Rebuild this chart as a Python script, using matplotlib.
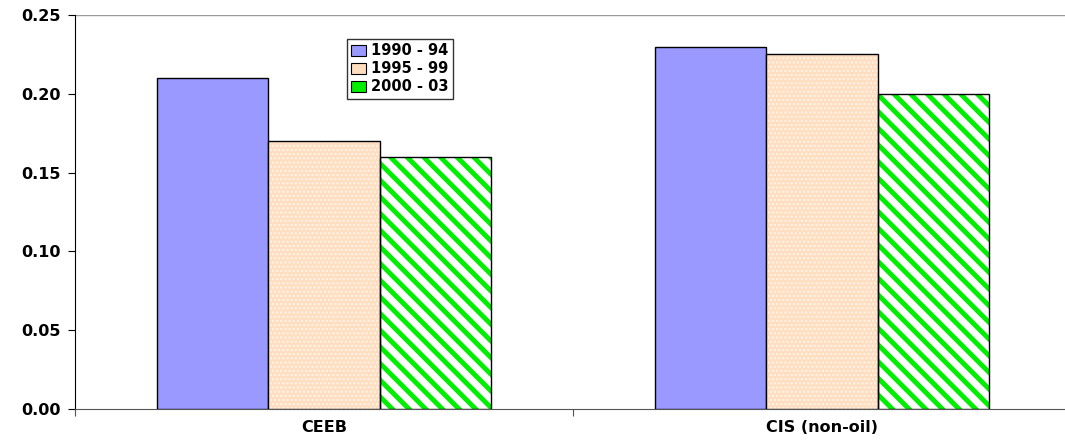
import matplotlib
matplotlib.use("Agg")
import matplotlib.pyplot as plt
import numpy as np

categories = ["CEEB", "CIS (non-oil)"]
series_names = ["1990 - 94", "1995 - 99", "2000 - 03"]
v_1990_94 = [0.21, 0.23]
v_1995_99 = [0.17, 0.225]
v_2000_03 = [0.16, 0.20]
yticks = [0.00, 0.05, 0.10, 0.15, 0.20, 0.25]

plt.rcParams['font.family'] = ['DejaVu Sans']
plt.rcParams['font.weight'] = 'bold'

FS = 11.5

W, H = 1065, 440
fig = plt.figure(figsize=(W / 100, H / 100), dpi=100)
ax = fig.add_axes([75 / W, (H - 409) / H, 996 / W, 394 / H])

x = np.arange(len(categories))
bw = 0.223
offs = [-bw, 0, bw]

ax.bar(x + offs[0], v_1990_94, bw, color='#9999FF', edgecolor='black', linewidth=1, zorder=3)
with plt.rc_context({'hatch.linewidth': 1.2}):
    ax.bar(x + offs[1], v_1995_99, bw, color='#FFDDBF', edgecolor='#FFF3E8', linewidth=0, hatch='....', zorder=3)
ax.bar(x + offs[1], v_1995_99, bw, color='none', edgecolor='black', linewidth=1, zorder=4)
with plt.rc_context({'hatch.linewidth': 3.5}):
    ax.bar(x + offs[2], v_2000_03, bw, color='white', edgecolor='#00EE00', linewidth=0, hatch='\\\\', zorder=3)
ax.bar(x + offs[2], v_2000_03, bw, color='none', edgecolor='black', linewidth=1, zorder=4)

ax.set_xlim(-0.5, 1.5)
ax.set_ylim(0, 0.25)
ax.set_yticks(yticks)
ax.set_yticklabels([f"{v:.2f}" for v in yticks], fontsize=FS, fontweight='bold')
ax.set_xticks([-0.5, 0.5, 1.5])
ax.set_xticklabels([])
ax.set_xticks(x, minor=True)
ax.set_xticklabels(categories, minor=True, fontsize=FS, fontweight='bold')
ax.tick_params(axis='x', which='minor', length=0, pad=8)
ax.tick_params(axis='x', which='major', length=5, direction='out', color='#555555')
ax.tick_params(axis='y', length=5, direction='out', pad=5)

ax.axhline(0.25, color='#999999', linewidth=1, zorder=1)
for s in ['top', 'right']:
    ax.spines[s].set_visible(False)
ax.spines['left'].set_color('black')
ax.spines['bottom'].set_color('#555555')

from matplotlib.patches import Patch
handles = [
    Patch(facecolor='#9999FF', edgecolor='black', linewidth=0.8),
    Patch(facecolor='#FFDDBF', edgecolor='black', linewidth=0.8),
    Patch(facecolor='#00EE00', edgecolor='black', linewidth=0.8),
]
leg = ax.legend(handles, series_names, loc='upper left',
                bbox_to_anchor=(347 / W, 1 - 39 / H), bbox_transform=fig.transFigure,
                frameon=True, fancybox=False, handlelength=1.0,
                handleheight=0.8, handletextpad=0.35, borderpad=0.3, labelspacing=0.2,
                borderaxespad=0, prop={'weight': 'bold', 'size': 10.5})
leg.get_frame().set_edgecolor('black')
leg.get_frame().set_linewidth(1)

fig.savefig("out.png", dpi=100)
